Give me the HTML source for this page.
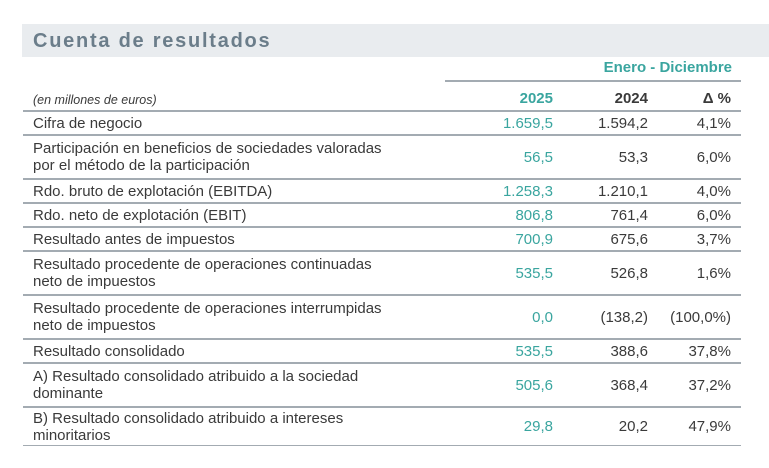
<!DOCTYPE html>
<html><head><meta charset="utf-8"><style>
body{margin:0;width:769px;height:468px;background:#fff;font-family:"Liberation Sans",Arial,sans-serif;position:relative;overflow:hidden;color:#3a3a3a}
.band{position:absolute;left:22px;top:24px;width:747px;height:33px;background:#e9ecef}
.title{position:absolute;left:33px;top:30px;font-size:20px;font-weight:bold;color:#6b7d8a;letter-spacing:1.75px}
.hl{position:absolute;height:2px;background:#a3abb2;left:23px;width:718px}
.row{position:absolute;left:23px;width:718px;display:flex;align-items:center;font-size:15px}
.lab{position:absolute;left:10px;line-height:17px}
.v{position:absolute;text-align:right;line-height:17px}
.a{right:188px;color:#3aa59f}.b{right:93px}.c{right:10px}
</style></head><body>
<div class="band"></div><div class="title">Cuenta de resultados</div>
<div style="position:absolute;right:37px;top:59px;font-size:15px;font-weight:bold;color:#3aa59f">Enero - Diciembre</div>
<div class="hl" style="left:445px;width:296px;top:80px"></div>
<div class="row" style="top:86px;height:24px"><span class="lab" style="font-size:12.5px;font-style:italic;top:6px">(en millones de euros)</span><span class="v a" style="font-weight:bold">2025</span><span class="v b" style="font-weight:bold">2024</span><span class="v c" style="font-weight:bold">Δ %</span></div>
<div class="hl" style="top:110px"></div>
<div class="row" style="top:112px;height:22px"><span class="lab">Cifra de negocio</span><span class="v a">1.659,5</span><span class="v b">1.594,2</span><span class="v c">4,1%</span></div>
<div class="hl" style="top:134px"></div>
<div class="row" style="top:136px;height:42px"><span class="lab">Participación en beneficios de sociedades valoradas<br>por el método de la participación</span><span class="v a">56,5</span><span class="v b">53,3</span><span class="v c">6,0%</span></div>
<div class="hl" style="top:178px"></div>
<div class="row" style="top:180px;height:22px"><span class="lab">Rdo. bruto de explotación (EBITDA)</span><span class="v a">1.258,3</span><span class="v b">1.210,1</span><span class="v c">4,0%</span></div>
<div class="hl" style="top:202px"></div>
<div class="row" style="top:204px;height:22px"><span class="lab">Rdo. neto de explotación (EBIT)</span><span class="v a">806,8</span><span class="v b">761,4</span><span class="v c">6,0%</span></div>
<div class="hl" style="top:226px"></div>
<div class="row" style="top:228px;height:22px"><span class="lab">Resultado antes de impuestos</span><span class="v a">700,9</span><span class="v b">675,6</span><span class="v c">3,7%</span></div>
<div class="hl" style="top:250px"></div>
<div class="row" style="top:252px;height:42px"><span class="lab">Resultado procedente de operaciones continuadas<br>neto de impuestos</span><span class="v a">535,5</span><span class="v b">526,8</span><span class="v c">1,6%</span></div>
<div class="hl" style="top:294px"></div>
<div class="row" style="top:296px;height:42px"><span class="lab">Resultado procedente de operaciones interrumpidas<br>neto de impuestos</span><span class="v a">0,0</span><span class="v b">(138,2)</span><span class="v c">(100,0%)</span></div>
<div class="hl" style="top:338px"></div>
<div class="row" style="top:340px;height:22px"><span class="lab">Resultado consolidado</span><span class="v a">535,5</span><span class="v b">388,6</span><span class="v c">37,8%</span></div>
<div class="hl" style="top:362px"></div>
<div class="row" style="top:364px;height:42px"><span class="lab">A) Resultado consolidado atribuido a la sociedad<br>dominante</span><span class="v a">505,6</span><span class="v b">368,4</span><span class="v c">37,2%</span></div>
<div class="hl" style="top:406px"></div>
<div class="row" style="top:408px;height:37px"><span class="lab">B) Resultado consolidado atribuido a intereses<br>minoritarios</span><span class="v a">29,8</span><span class="v b">20,2</span><span class="v c">47,9%</span></div>
<div class="hl" style="top:445px;height:1px"></div>
</body></html>
